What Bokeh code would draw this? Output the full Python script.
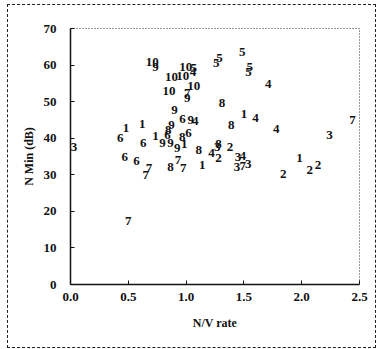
from bokeh.plotting import figure
from bokeh.models import ColumnDataSource, FixedTicker, NumeralTickFormatter
from bokeh.embed import file_html
from bokeh.resources import INLINE

# data: (N/V rate, N Min dB, group label)
nv_rate = [0.03, 0.48, 0.43, 0.62, 0.63, 0.47, 0.57, 0.68, 0.65, 0.50,
           0.735, 0.796, 0.865, 0.923, 0.983, 0.966, 1.02, 0.874, 0.845, 0.839,
           0.90, 0.969, 1.04, 1.08, 1.01, 1.01, 0.853, 1.067, 0.874, 0.97,
           0.998, 1.067, 1.06, 0.707, 0.735, 1.29, 1.26, 1.485, 1.55, 1.54,
           1.71, 1.31, 1.50, 1.60, 1.39, 1.78, 2.44, 2.24, 1.11, 1.22,
           1.28, 1.28, 1.27, 1.38, 1.45, 1.49, 1.537, 1.49, 1.44, 1.14,
           0.865, 0.93, 0.975, 1.98, 1.84, 2.07, 2.14]
n_min = [37.5, 42.7, 40.0, 44.0, 38.6, 35.0, 33.9, 31.8, 30.0, 17.3,
         40.7, 38.8, 38.6, 37.2, 38.3, 40.4, 41.3, 43.6, 42.3, 40.9,
         47.7, 45.3, 45.0, 44.7, 50.9, 52.3, 52.9, 54.3, 56.8, 57.1,
         59.6, 59.3, 58.2, 60.9, 59.6, 62.0, 60.7, 63.7, 59.6, 58.0,
         54.8, 49.5, 46.5, 45.6, 43.6, 42.5, 45.0, 40.9, 36.8, 35.9,
         34.7, 38.3, 37.5, 37.7, 35.0, 35.2, 32.9, 32.5, 32.0, 32.7,
         32.2, 34.0, 31.8, 34.5, 30.3, 31.2, 32.7]
group = ["3", "1", "6", "1", "6", "6", "6", "7", "7", "7",
         "1", "9", "9", "9", "1", "8", "6", "9", "8", "6",
         "9", "6", "9", "4", "9", "7", "10", "10", "10", "10",
         "10", "5", "4", "10", "9", "5", "5", "5", "5", "5",
         "4", "8", "1", "4", "8", "4", "7", "3", "8", "4",
         "2", "8", "3", "2", "3", "4", "3", "7", "3", "1",
         "8", "7", "7", "1", "2", "2", "2"]

x_ticks = [0.0, 0.5, 1.0, 1.5, 2.0, 2.5]
y_ticks = [0, 10, 20, 30, 40, 50, 60, 70]

src = ColumnDataSource(dict(x=nv_rate, y=n_min, t=group))

FONT = "Liberation Serif"

p = figure(width=369, height=344, output_backend="svg", toolbar_location=None,
           x_range=(0.0, 2.5), y_range=(0, 70),
           min_border_left=62, min_border_right=18,
           min_border_top=23, min_border_bottom=65)
p.styles = {"border": "1px dashed #222", "box-sizing": "border-box",
            "margin-left": "7px", "margin-top": "4px"}

p.text(x="x", y="y", text="t", source=src, text_align="center",
       text_baseline="middle", text_font_size="13px",
       text_font_style="bold", text_color="#111", text_font=FONT)

p.grid.visible = False
p.outline_line_color = "#333"
p.outline_line_dash = "1 2"
p.outline_line_width = 1

for ax in (p.xaxis[0], p.yaxis[0]):
    ax.axis_line_color = "#111"
    ax.axis_line_width = 1.5
    ax.major_tick_in = 4
    ax.major_tick_out = 0
    ax.minor_tick_in = 0
    ax.minor_tick_out = 0
    ax.major_tick_line_color = "#111"
    ax.major_label_text_font = FONT
    ax.major_label_text_font_style = "bold"
    ax.major_label_text_font_size = "13px"
    ax.major_label_text_color = "#111"
    ax.axis_label_text_font = FONT
    ax.axis_label_text_font_style = "bold"
    ax.axis_label_text_font_size = "12px"
    ax.axis_label_text_color = "#111"

p.xaxis.ticker = FixedTicker(ticks=x_ticks)
p.xaxis.formatter = NumeralTickFormatter(format="0.0")
p.xaxis.major_label_standoff = 8
p.xaxis.axis_label = "N/V rate"
p.xaxis.axis_label_standoff = 12

p.yaxis.ticker = FixedTicker(ticks=y_ticks)
p.yaxis.major_label_standoff = 14
p.yaxis.axis_label = "N Min (dB)"
p.yaxis.axis_label_standoff = 5

open("out.html", "w").write(file_html(p, INLINE))
